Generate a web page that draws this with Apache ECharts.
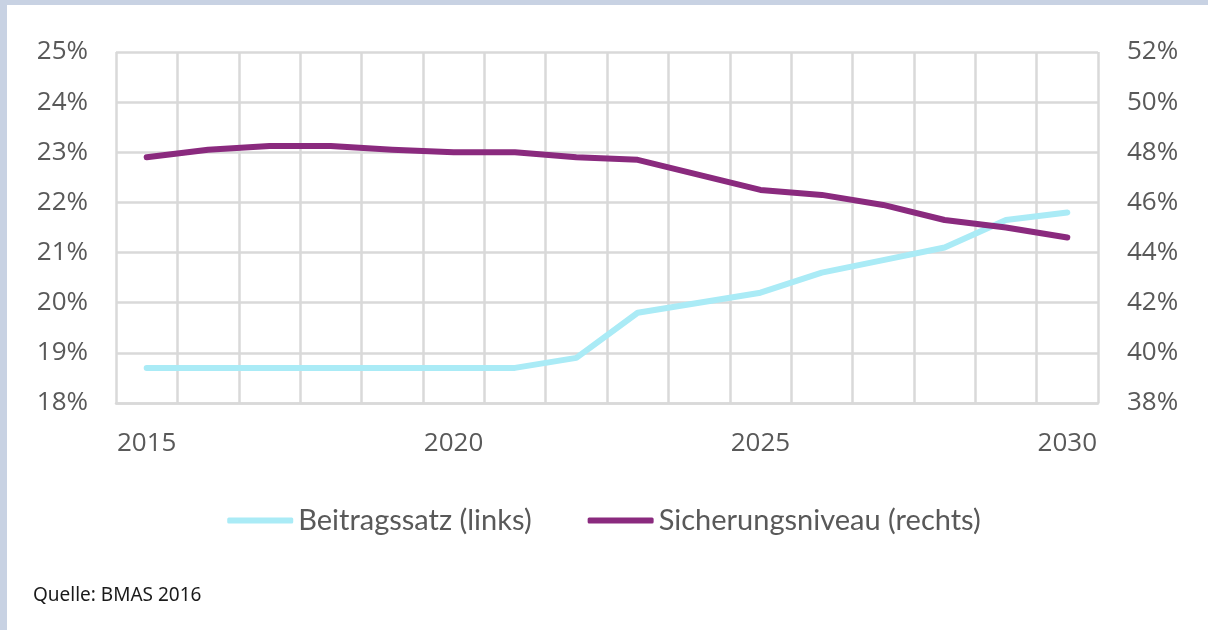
<!DOCTYPE html>
<html>
<head>
<meta charset="utf-8">
<script src="https://cdn.jsdelivr.net/npm/echarts@6/dist/echarts.min.js"></script>
<style>
  html, body { margin: 0; padding: 0; background: #fff; }
  #bandTop { position: absolute; left: 0; top: 0; width: 1208px; height: 5px; background: #c8d2e3; }
  #bandLeft { position: absolute; left: 0; top: 0; width: 7px; height: 630px; background: #c8d2e3; }
  #chart { position: absolute; left: 0; top: 0; width: 1208px; height: 630px; }
</style>
</head>
<body>
<div id="bandTop"></div>
<div id="bandLeft"></div>
<div id="chart"></div>
<script>
// Jahre
const years = ['2015', '2016', '2017', '2018', '2019', '2020', '2021', '2022',
  '2023', '2024', '2025', '2026', '2027', '2028', '2029', '2030'];
// Beitragssatz (links), in %
const beitragssatz = [18.7, 18.7, 18.7, 18.7, 18.7, 18.7, 18.7, 18.9,
  19.8, 20.0, 20.2, 20.6, 20.85, 21.1, 21.65, 21.8];
// Sicherungsniveau (rechts), in %
const sicherungsniveau = [47.8, 48.1, 48.25, 48.25, 48.1, 48.0, 48.0, 47.8,
  47.7, 47.1, 46.5, 46.3, 45.9, 45.3, 45.0, 44.6];

const gridColor = '#d9d9d9';
const labelColor = '#595959';
const axisFont = 'Open Sans';

let chart = echarts.init(document.getElementById('chart'));
chart.setOption({
  animation: false,
  title: {
    text: 'Quelle: BMAS 2016',
    left: 28,
    top: 581,
    textStyle: {
      fontFamily: 'Noto Sans',
      fontSize: 19,
      fontWeight: 'normal',
      color: '#1a1a1a',
    },
  },
  legend: {
    bottom: 90,
    left: 'center',
    icon: 'roundRect',
    itemWidth: 66,
    itemHeight: 6,
    itemGap: 56,
    textStyle: {
      fontFamily: 'Lato',
      fontSize: 29,
      color: labelColor,
    },
    data: ['Beitragssatz (links)', 'Sicherungsniveau (rechts)'],
  },
  grid: {
    left: 116,
    right: 110,
    top: 52,
    bottom: 227,
  },
  xAxis: {
    type: 'category',
    data: years,
    boundaryGap: true,
    axisLine: {lineStyle: {color: gridColor, width: 2.5}},
    axisTick: {show: false},
    axisLabel: {
      interval: 4,
      margin: 28,
      color: labelColor,
      fontFamily: axisFont,
      fontSize: 26,
    },
    splitLine: {
      show: true,
      interval: 0,
      lineStyle: {color: gridColor, width: 2.5},
    },
  },
  yAxis: [{
    type: 'value',
    min: 18,
    max: 25,
    interval: 1,
    position: 'left',
    axisLine: {show: false},
    axisTick: {show: false},
    axisLabel: {
      margin: 28,
      color: labelColor,
      fontFamily: axisFont,
      fontSize: 26,
      formatter: '{value}%',
    },
    splitLine: {lineStyle: {color: gridColor, width: 2.5}},
  }, {
    type: 'value',
    min: 38,
    max: 52,
    interval: 2,
    position: 'right',
    axisLine: {show: false},
    axisTick: {show: false},
    axisLabel: {
      margin: 29,
      color: labelColor,
      fontFamily: axisFont,
      fontSize: 26,
      formatter: '{value}%',
    },
    splitLine: {show: false},
  }],
  series: [{
    name: 'Beitragssatz (links)',
    type: 'line',
    yAxisIndex: 0,
    data: beitragssatz,
    symbol: 'none',
    color: '#aaebf6',
    lineStyle: {width: 6, color: '#aaebf6', cap: 'round', join: 'round'},
  }, {
    name: 'Sicherungsniveau (rechts)',
    type: 'line',
    yAxisIndex: 1,
    data: sicherungsniveau,
    symbol: 'none',
    color: '#8a2a7e',
    lineStyle: {width: 6, color: '#8a2a7e', cap: 'round', join: 'round'},
  }],
});
</script>
</body>
</html>
